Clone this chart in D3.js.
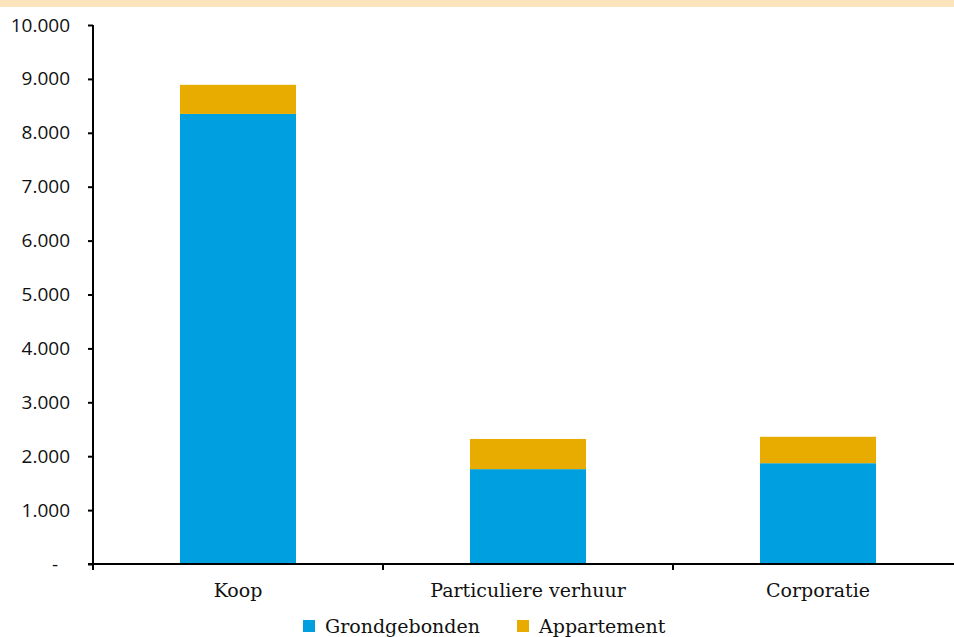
<!DOCTYPE html>
<html><head><meta charset="utf-8">
<script src="https://cdn.jsdelivr.net/npm/d3@7"></script>
<style>body{margin:0;background:#fff}svg{display:block}</style>
</head><body>
<svg id="c" width="954" height="637"></svg>
<script>
const categories = ["Koop", "Particuliere verhuur", "Corporatie"];
const seriesNames = ["Grondgebonden", "Appartement"];
const grondgebonden = [8350, 1760, 1870];
const appartement = [540, 560, 490];
const yTicks = [0, 1000, 2000, 3000, 4000, 5000, 6000, 7000, 8000, 9000, 10000];
const colors = ["#009FE0", "#E8AB00"];

const svg = d3.select("#c");
svg.append("rect").attr("x",0).attr("y",0).attr("width",954).attr("height",7).attr("fill","#FCE4BC");

const x0 = 93, x1 = 963, yTop = 25, yBot = 564;
const x = d3.scaleBand().domain(categories).range([x0, x1]).paddingInner(0.6).paddingOuter(0.3);
const y = d3.scaleLinear().domain([0, 10000]).range([yBot, yTop]);

const data = categories.map((c,i)=>({cat:c, Grondgebonden:grondgebonden[i], Appartement:appartement[i]}));
const stack = d3.stack().keys(seriesNames)(data);

svg.append("g").selectAll("g").data(stack).join("g").attr("fill",(d,i)=>colors[i])
  .selectAll("rect").data(d=>d).join("rect")
  .attr("x", d=>x(d.data.cat)).attr("width", x.bandwidth())
  .attr("y", d=>y(d[1])).attr("height", d=>y(d[0])-y(d[1]));

const fmt = v => v===0 ? "-" : d3.format(",")(v).replace(/,/g,".");
const ya = svg.append("g").attr("transform",`translate(${x0},0)`)
  .call(d3.axisLeft(y).tickValues(yTicks).tickSize(5).tickSizeOuter(0).tickFormat(fmt));
ya.select(".domain").attr("stroke","#000").attr("stroke-width",2).attr("d",`M0,${yBot}V${yTop}`);
ya.selectAll(".tick line").attr("stroke","#000").attr("stroke-width",2);
ya.selectAll(".tick text").attr("x",-23).attr("font-family","Open Sans").attr("font-size",19).attr("fill","#111");
ya.selectAll(".tick").filter(d=>d===0).select("text").attr("x",-35);

// x axis line
const xb = d3.scaleBand().domain(categories).range([x0, x1]);
svg.append("line").attr("x1",88).attr("x2",954).attr("y1",yBot).attr("y2",yBot).attr("stroke","#000").attr("stroke-width",2);
const xt = svg.append("g");
xt.selectAll("line").data(categories).join("line")
  .attr("x1",d=>xb(d)).attr("x2",d=>xb(d)).attr("y1",yBot).attr("y2",yBot+6).attr("stroke","#000").attr("stroke-width",2);
xt.selectAll("text").data(categories).join("text")
  .attr("x",d=>xb(d)+xb.bandwidth()/2).attr("y",597).attr("text-anchor","middle")
  .attr("font-family","DejaVu Serif").attr("font-size",19).attr("fill","#111").text(d=>d);

// legend
const legX = [303, 517];
const leg = svg.append("g");
seriesNames.forEach((s,i)=>{
  leg.append("rect").attr("x",legX[i]).attr("y",620).attr("width",12).attr("height",12).attr("fill",colors[i]);
  leg.append("text").attr("x",legX[i]+22).attr("y",633).attr("font-family","DejaVu Serif").attr("font-size",19).attr("fill","#111").text(s);
});
</script>
</body></html>
